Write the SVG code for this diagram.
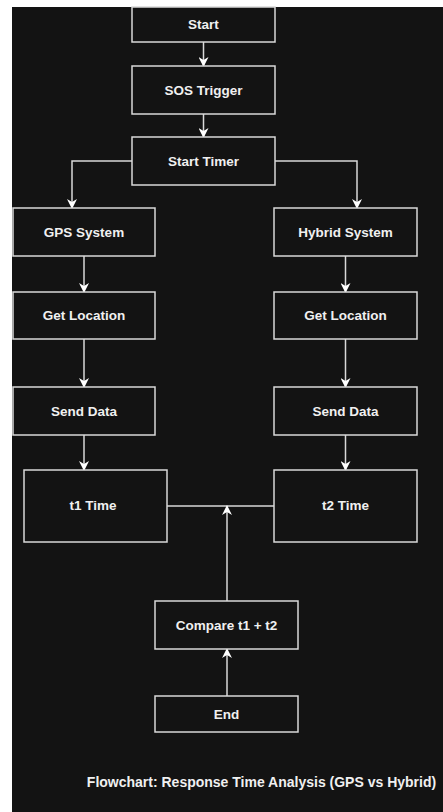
<svg xmlns="http://www.w3.org/2000/svg" width="443" height="812" viewBox="0 0 443 812">
<defs>
<style>
.box{fill:#131313;stroke:#d9d9d9;stroke-width:1.5}
.lbl{font-family:"Liberation Sans",Arial,sans-serif;font-weight:bold;font-size:13.5px;fill:#f0f0f0;text-anchor:middle;dominant-baseline:central}
.ttl{font-family:"Liberation Sans",Arial,sans-serif;font-weight:bold;font-size:14px;fill:#f0f0f0;text-anchor:middle;dominant-baseline:central}
.con{fill:none;stroke:#d9d9d9;stroke-width:1.5}
</style>
<marker id="arr" viewBox="0 0 10 10" refX="9" refY="5" markerWidth="10" markerHeight="10" markerUnits="userSpaceOnUse" orient="auto">
<path d="M0,0 L10,5 L0,10 L3,5 z" fill="#ffffff"/>
</marker>
</defs>
<rect x="0" y="0" width="443" height="812" fill="#ffffff"/>
<rect x="12" y="7" width="431" height="805" fill="#131313"/>
<g id="connectors">
<path class="con" d="M203.5,42 V66" marker-end="url(#arr)"/>
<path class="con" d="M203.5,114 V137" marker-end="url(#arr)"/>
<path class="con" d="M132,161 H72 V208" marker-end="url(#arr)"/>
<path class="con" d="M275,161 H357 V208" marker-end="url(#arr)"/>
<path class="con" d="M84,256 V292" marker-end="url(#arr)"/>
<path class="con" d="M84,339 V387" marker-end="url(#arr)"/>
<path class="con" d="M84,435 V470" marker-end="url(#arr)"/>
<path class="con" d="M345.5,256 V292" marker-end="url(#arr)"/>
<path class="con" d="M345.5,339 V387" marker-end="url(#arr)"/>
<path class="con" d="M345.5,435 V470" marker-end="url(#arr)"/>
<path class="con" d="M167,506 H274"/>
<path class="con" d="M227,601 V506" marker-end="url(#arr)"/>
<path class="con" d="M227,696 V649" marker-end="url(#arr)"/>
</g>
<g id="start"><rect class="box" x="132" y="7" width="143" height="35"/><text class="lbl" x="203.5" y="24.5">Start</text></g>
<g id="sos"><rect class="box" x="132" y="66" width="143" height="48"/><text class="lbl" x="203.5" y="90">SOS Trigger</text></g>
<g id="timer"><rect class="box" x="132" y="137" width="143" height="48"/><text class="lbl" x="203.5" y="161">Start Timer</text></g>
<g id="gps"><rect class="box" x="13" y="208" width="142" height="48"/><text class="lbl" x="84" y="232">GPS System</text></g>
<g id="hybrid"><rect class="box" x="274" y="208" width="143" height="48"/><text class="lbl" x="345.5" y="232">Hybrid System</text></g>
<g id="getloc1"><rect class="box" x="13" y="292" width="142" height="47"/><text class="lbl" x="84" y="315.5">Get Location</text></g>
<g id="getloc2"><rect class="box" x="274" y="292" width="143" height="47"/><text class="lbl" x="345.5" y="315.5">Get Location</text></g>
<g id="send1"><rect class="box" x="13" y="387" width="142" height="48"/><text class="lbl" x="84" y="411">Send Data</text></g>
<g id="send2"><rect class="box" x="274" y="387" width="143" height="48"/><text class="lbl" x="345.5" y="411">Send Data</text></g>
<g id="t1"><rect class="box" x="24" y="470" width="143" height="72"/><text class="lbl" x="93" y="505">t1 Time</text></g>
<g id="t2"><rect class="box" x="274" y="470" width="143" height="72"/><text class="lbl" x="345.5" y="505">t2 Time</text></g>
<g id="compare"><rect class="box" x="155" y="601" width="143" height="48"/><text class="lbl" x="226.5" y="625">Compare t1 + t2</text></g>
<g id="end"><rect class="box" x="155" y="696" width="143" height="36"/><text class="lbl" x="226.5" y="714">End</text></g>
<g id="title"><text class="ttl" x="261.5" y="782">Flowchart: Response Time Analysis (GPS vs Hybrid)</text></g>
</svg>
